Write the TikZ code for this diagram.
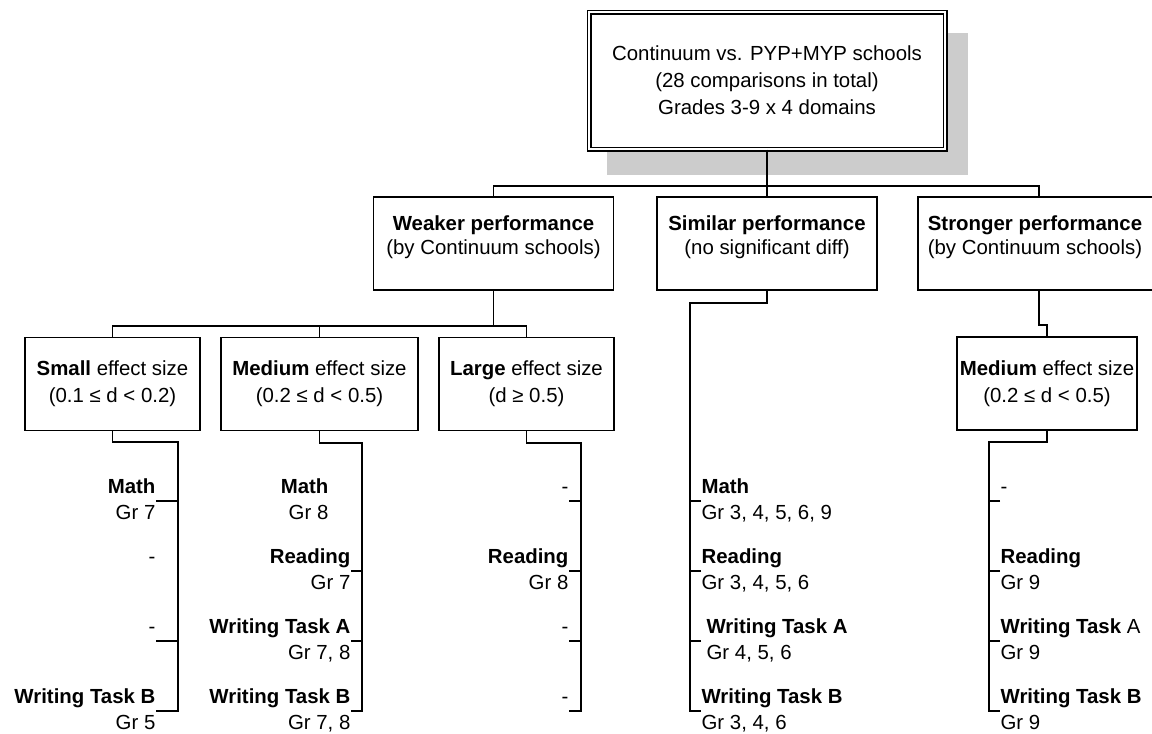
\documentclass[tikz,border=0pt]{standalone}
\usepackage{fontspec}
\setmainfont{Liberation Sans}
\newcommand{\entry}[2]{\textbf{#1}\strut\\#2\strut}
\newcommand{\nil}{-\strut\\\strut}
\begin{document}
\begin{tikzpicture}[x=1pt,y=-1pt,line width=1.2pt,font=\fontsize{20.4}{27}\selectfont]
\tikzstyle{box}=[draw,fill=white,align=center,inner sep=0pt,minimum height=93pt]
\tikzstyle{txt}=[align=center,inner sep=0pt,font=\fontsize{20.4}{24}\selectfont]
\tikzstyle{lft}=[align=right,anchor=east,inner sep=0pt,font=\fontsize{20.4}{26}\selectfont]
\tikzstyle{rgt}=[align=left,anchor=west,inner sep=0pt,font=\fontsize{20.4}{26}\selectfont]
\useasboundingbox (0,0) rectangle (1152,734);

\fill[black!20] (607,33) rectangle (968,175);
\node[box,double,double distance=2.6pt,minimum width=356pt,minimum height=137pt] at (767,80.5) (top) {Continuum vs. PYP+MYP schools\\(28 comparisons in total)\\Grades 3-9 x 4 domains};

\node[box,minimum width=240pt] at (493.5,243.5) (weak) {};
\node[txt] at (493.5,237) (weakt) {\textbf{Weaker performance}\\(by Continuum schools)};
\node[box,minimum width=220pt] at (767,243.5) (sim) {};
\node[txt] at (767,237) (simt) {\textbf{Similar performance}\\(no significant diff)};
\node[box,minimum width=242pt] at (1039,243.5) (strong) {};
\node[txt] at (1035,237) (strongt) {\textbf{Stronger performance}\\(by Continuum schools)};

\node[box,minimum width=175pt] at (112.5,384) (small) {\textbf{Small} effect size\\(0.1 ≤ d < 0.2)};
\node[box,minimum width=197pt] at (319.5,384) (med) {\textbf{Medium} effect size\\(0.2 ≤ d < 0.5)};
\node[box,minimum width=175pt] at (526.5,384) (large) {\textbf{Large} effect size\\(d ≥ 0.5)};
\node[box,minimum width=180pt] at (1047,383.5) (medr) {\textbf{Medium} effect size\\(0.2 ≤ d < 0.5)};

\node[lft] at (156,501) (sm1) {\entry{Math}{Gr 7}};
\node[lft] at (156,571) (sm2) {\nil};
\node[lft] at (156,641) (sm3) {\nil};
\node[lft] at (156,711) (sm4) {\entry{Writing Task B}{Gr 5}};

\node[lft] at (329,501) (md1) {\entry{Math}{Gr 8}};
\node[lft] at (351,571) (md2) {\entry{Reading}{Gr 7}};
\node[lft] at (351,641) (md3) {\entry{Writing Task A}{Gr 7, 8}};
\node[lft] at (351,711) (md4) {\entry{Writing Task B}{Gr 7, 8}};

\node[lft] at (569,501) (lg1) {\nil};
\node[lft] at (569,571) (lg2) {\entry{Reading}{Gr 8}};
\node[lft] at (569,641) (lg3) {\nil};
\node[lft] at (569,711) (lg4) {\nil};

\node[rgt] at (701,501) (si1) {\entry{Math}{Gr 3, 4, 5, 6, 9}};
\node[rgt] at (701,571) (si2) {\entry{Reading}{Gr 3, 4, 5, 6}};
\node[rgt] at (701,641) (si3) {\entry{\hspace*{5pt}Writing Task A}{\hspace*{5pt}Gr 4, 5, 6}};
\node[rgt] at (701,711) (si4) {\entry{Writing Task B}{Gr 3, 4, 6}};

\node[rgt] at (1000,501) (st1) {\nil};
\node[rgt] at (1000,571) (st2) {\entry{Reading}{Gr 9}};
\node[rgt] at (1000,641) (st3) {\textbf{Writing Task} A\strut\\Gr 9\strut};
\node[rgt] at (1000,711) (st4) {\entry{Writing Task B}{Gr 9}};

\coordinate (j1) at (767,186);
\coordinate (j2) at (493.5,326);
\coordinate (sj) at (1039,325);
\coordinate (sb) at (178,442);
\coordinate (mb) at (362,443);
\coordinate (lb) at (581,443);
\coordinate (sib) at (690,303);
\coordinate (stb) at (989,442);

\draw (top) -- (sim);
\draw (weak) |- (j1) -| (strong);
\draw (weak) -- (j2);
\draw (small) |- (j2) -| (large);
\draw (med) -- (med |- j2);
\draw (strong) -- (sj) -| (medr);

\draw (small) |- (sb) |- (sm4.east);
\draw (sm1.east) -- (sm1.east -| sb);
\draw (sm3.east) -- (sm3.east -| sb);

\draw (med) |- (mb) |- (md4.east);
\draw (md2.east) -- (md2.east -| mb);
\draw (md3.east) -- (md3.east -| mb);

\draw (large) |- (lb) |- (lg4.east);
\draw (lg1.east) -- (lg1.east -| lb);
\draw (lg2.east) -- (lg2.east -| lb);
\draw (lg3.east) -- (lg3.east -| lb);

\draw (sim) |- (sib) |- (si4.west);
\draw (si1.west) -- (si1.west -| sib);
\draw (si2.west) -- (si2.west -| sib);
\draw (si3.west) -- (si3.west -| sib);

\draw (medr) |- (stb) |- (st4.west);
\draw (st1.west) -- (st1.west -| stb);
\draw (st2.west) -- (st2.west -| stb);
\draw (st3.west) -- (st3.west -| stb);
\end{tikzpicture}
\end{document}
